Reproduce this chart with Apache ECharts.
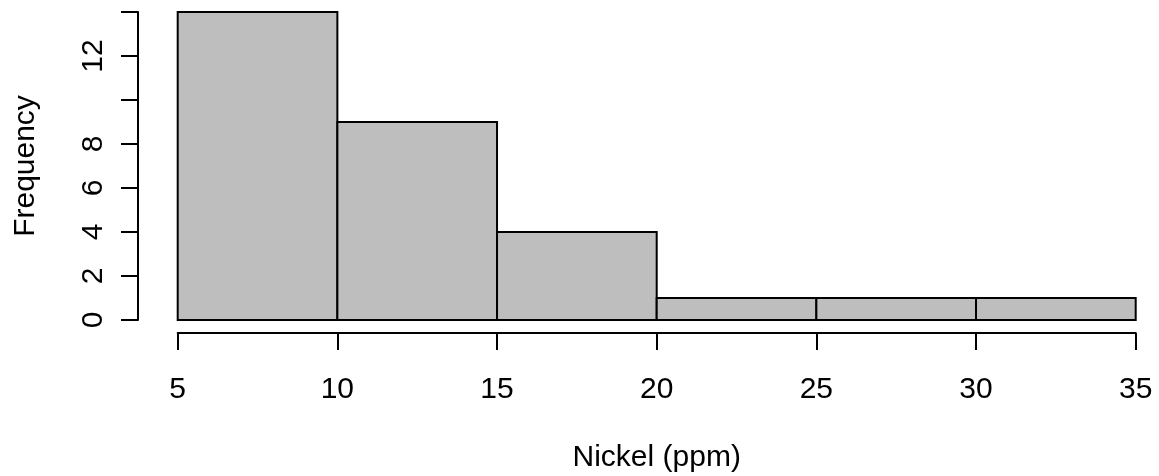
<!DOCTYPE html>
<html lang="en">
<head>
    <meta charset="UTF-8">
    <title>Histogram</title>
    <style>
        html, body { margin: 0; padding: 0; background: #fff; }
    </style>
    <script src="https://cdn.jsdelivr.net/npm/echarts@6/dist/echarts.min.js"></script>
</head>
<body>

    <div id="main" style="width: 1159px;height:476px;"></div>
    <script type="text/javascript">
        // histogram bins (ppm) and counts
        var binStarts = [5, 10, 15, 20, 25, 30];
        var binEnds = [10, 15, 20, 25, 30, 35];
        var counts = [14, 9, 4, 1, 1, 1];
        // y labels that R actually prints (10 and 14 dropped)
        var yShownLabels = [0, 2, 4, 6, 8, 12];

        var font = "'Liberation Sans', Arial, sans-serif";
        var data = [];
        for (var i = 0; i < counts.length; i++) {
            data.push([binStarts[i], binEnds[i], counts[i]]);
        }

        var myChart = echarts.init(document.getElementById('main'));

        var option = {
            animation: false,
            grid: {
                left: 177.7,
                right: 23.3,
                top: 12,
                bottom: 156,
                containLabel: false,
                outerBoundsMode: 'none'
            },
            xAxis: {
                type: 'value',
                min: 5,
                max: 35,
                interval: 5,
                offset: 13,
                name: 'Nickel (ppm)',
                nameLocation: 'middle',
                nameGap: 110,
                nameTextStyle: { color: '#000', fontSize: 30, fontFamily: font },
                axisLine: { show: true, onZero: false, lineStyle: { color: '#000', width: 2 } },
                axisTick: { show: true, length: 17, lineStyle: { color: '#000', width: 2 } },
                axisLabel: { color: '#000', fontSize: 30, fontFamily: font, margin: 42 },
                splitLine: { show: false }
            },
            yAxis: {
                type: 'value',
                min: 0,
                max: 14,
                interval: 2,
                offset: 39.7,
                name: 'Frequency',
                nameLocation: 'middle',
                nameGap: 97,
                nameTextStyle: { color: '#000', fontSize: 30, fontFamily: font },
                axisLine: { show: true, lineStyle: { color: '#000', width: 2 } },
                axisTick: { show: true, length: 17, lineStyle: { color: '#000', width: 2 } },
                axisLabel: {
                    color: '#000',
                    fontSize: 30,
                    fontFamily: font,
                    rotate: 90,
                    margin: 29,
                    formatter: function (v) {
                        return yShownLabels.indexOf(v) >= 0 ? String(v) : '';
                    }
                },
                splitLine: { show: false }
            },
            series: [{
                type: 'custom',
                data: data,
                encode: { x: [0, 1], y: 2 },
                renderItem: function (params, api) {
                    var p0 = api.coord([api.value(0), api.value(2)]);
                    var p1 = api.coord([api.value(1), 0]);
                    return {
                        type: 'rect',
                        shape: { x: p0[0], y: p0[1], width: p1[0] - p0[0], height: p1[1] - p0[1] },
                        style: { fill: '#bebebe', stroke: '#000', lineWidth: 2 }
                    };
                }
            }]
        };

        myChart.setOption(option);
    </script>

</body>
</html>
